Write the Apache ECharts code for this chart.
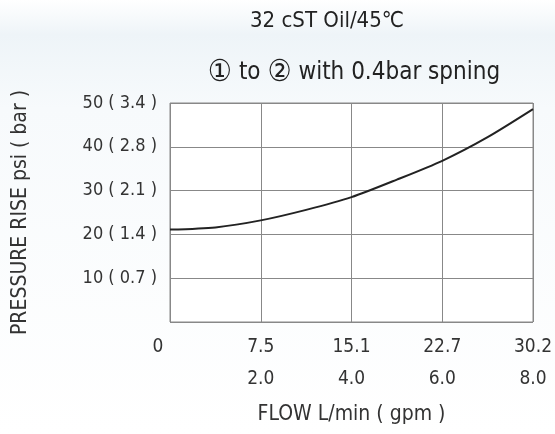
<!DOCTYPE html>
<html>
<head>
<meta charset="utf-8">
<script src="https://cdn.jsdelivr.net/npm/echarts@6/dist/echarts.min.js"></script>
<style>
  html, body { margin: 0; padding: 0; background: #fff; }
  #chart { width: 555px; height: 434px; }
</style>
</head>
<body>
<div id="chart"></div>
<script>
// flow in gpm, pressure rise in psi
const flowGpm = [0, 1, 2, 3, 4, 5, 6, 7, 8];
const pressurePsi = [21.1, 21.6, 23.2, 25.6, 28.5, 32.5, 36.8, 42.2, 48.6];
const xTickLpm = ["0", "7.5", "15.1", "22.7", "30.2"];
const xTickGpm = ["", "2.0", "4.0", "6.0", "8.0"];
const yTickBar = { 10: "0.7", 20: "1.4", 30: "2.1", 40: "2.8", 50: "3.4" };

const font = "'Liberation Sans Narrow', 'DejaVu Sans Condensed', 'Roboto', sans-serif";
const textColor = "#333";

const chart = echarts.init(document.getElementById("chart"));
chart.setOption({
  backgroundColor: new echarts.graphic.LinearGradient(0, 0, 0, 1, [
    { offset: 0, color: "#ffffff" },
    { offset: 0.08, color: "#eef4f8" },
    { offset: 0.25, color: "#f7fafc" },
    { offset: 1, color: "#ffffff" },
  ]),
  title: [
    {
      text: "32 cST Oil/45℃",
      left: 322,
      top: 5,
      textAlign: "center",
      textStyle: { fontFamily: font, fontSize: 22, fontWeight: "normal", color: "#222" },
    },
    {
      text: "{c|①} to {c|②} with 0.4bar spning",
      left: 349,
      top: 53,
      textAlign: "center",
      textStyle: {
        fontFamily: font,
        fontSize: 24,
        fontWeight: "normal",
        color: "#222",
        rich: { c: { fontFamily: font, fontSize: 30, color: "#222" } },
      },
    },
  ],
  grid: {
    left: 170,
    right: 22,
    top: 103,
    bottom: 112,
    outerBoundsMode: "none",
    backgroundColor: "#fff",
    show: true,
    borderColor: "#888",
    borderWidth: 1,
  },
  xAxis: {
    type: "value",
    min: 0,
    max: 8,
    interval: 2,
    name: "FLOW L/min ( gpm )",
    nameLocation: "middle",
    nameGap: 82,
    nameTextStyle: { fontFamily: font, fontSize: 21, color: textColor },
    axisLine: { show: false },
    axisTick: { show: false },
    splitLine: { lineStyle: { color: "#888", width: 1 } },
    axisLabel: {
      margin: 9,
      fontFamily: font,
      fontSize: 19,
      lineHeight: 32,
      color: textColor,
      formatter: (v) => {
        const i = Math.round(v / 2);
        if (i === 0) return "{z|0}\n ";
        return xTickLpm[i] + "\n" + xTickGpm[i];
      },
      rich: { z: { fontFamily: font, fontSize: 19, color: textColor, padding: [0, 24, 0, 0] } },
    },
  },
  yAxis: {
    type: "value",
    min: 0,
    max: 50,
    interval: 10,
    name: "PRESSURE RISE psi ( bar )",
    nameLocation: "middle",
    nameGap: 139,
    nameTextStyle: { fontFamily: font, fontSize: 21, color: textColor },
    axisLine: { show: false },
    axisTick: { show: false },
    splitLine: { lineStyle: { color: "#888", width: 1 } },
    axisLabel: {
      margin: 13,
      fontFamily: font,
      fontSize: 18,
      color: textColor,
      formatter: (v) => (v === 0 ? "" : v + " ( " + yTickBar[v] + " )"),
    },
  },
  series: [
    {
      type: "line",
      data: flowGpm.map((x, i) => [x, pressurePsi[i]]),
      smooth: 0.25,
      showSymbol: false,
      lineStyle: { color: "#222", width: 2 },
    },
  ],
});
</script>
</body>
</html>
